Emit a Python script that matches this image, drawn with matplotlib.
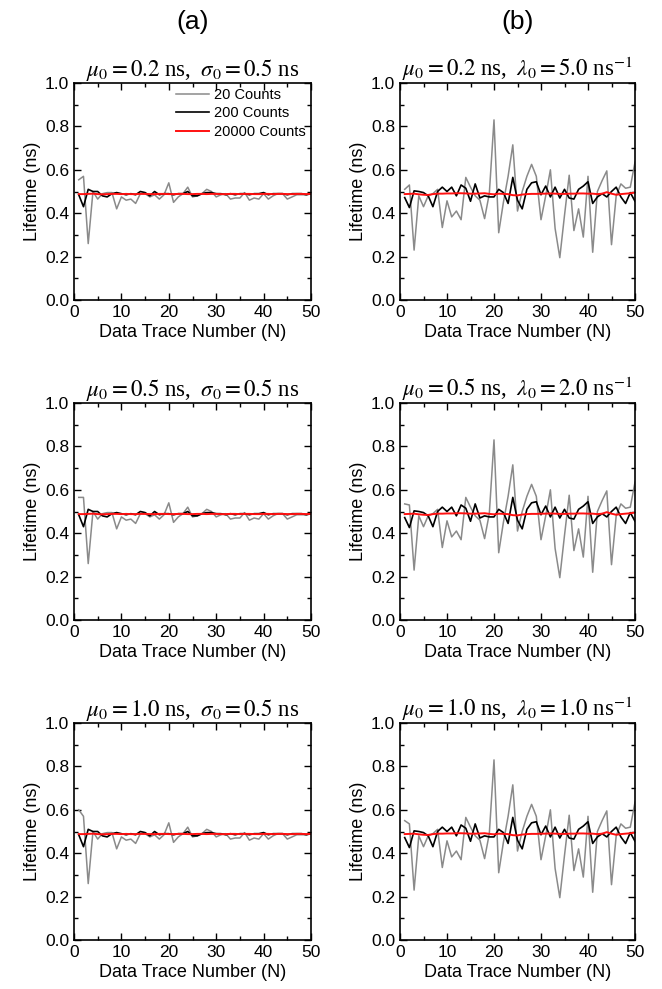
import matplotlib
matplotlib.use("Agg")
import matplotlib.pyplot as plt
import numpy as np

plt.rcParams['font.family'] = ['Liberation Sans', 'DejaVu Sans']
plt.rcParams['mathtext.fontset'] = 'stix'

N = list(range(1, 51))

# Panel (a): Gaussian IRF cases
a_gray = [0.554, 0.57, 0.26, 0.50, 0.465, 0.49, 0.495, 0.495, 0.42, 0.475,
          0.46, 0.465, 0.445, 0.49, 0.49, 0.475, 0.485, 0.465, 0.485, 0.54,
          0.45, 0.475, 0.49, 0.52, 0.475, 0.48, 0.49, 0.51, 0.50, 0.475,
          0.485, 0.49, 0.465, 0.47, 0.47, 0.495, 0.46, 0.47, 0.465, 0.49,
          0.465, 0.48, 0.49, 0.49, 0.465, 0.475, 0.485, 0.485, 0.485, 0.49]
a_gray_start = [[0.554, 0.57], [0.565, 0.565], [0.60, 0.57]]
a_black = [0.485, 0.43, 0.51, 0.50, 0.50, 0.48, 0.475, 0.49, 0.495, 0.49,
           0.485, 0.49, 0.485, 0.50, 0.495, 0.48, 0.50, 0.485, 0.49, 0.49,
           0.485, 0.49, 0.49, 0.50, 0.48, 0.48, 0.49, 0.495, 0.495, 0.49,
           0.49, 0.485, 0.49, 0.485, 0.49, 0.49, 0.485, 0.49, 0.49, 0.495,
           0.485, 0.49, 0.49, 0.49, 0.485, 0.49, 0.49, 0.49, 0.485, 0.49]
a_red = [0.488, 0.488, 0.489, 0.490, 0.488, 0.487, 0.488, 0.489, 0.489, 0.488,
         0.489, 0.488, 0.488, 0.489, 0.489, 0.488, 0.488, 0.489, 0.489, 0.488,
         0.488, 0.489, 0.489, 0.488, 0.488, 0.489, 0.489, 0.488, 0.489, 0.489,
         0.488, 0.488, 0.489, 0.489, 0.488, 0.489, 0.489, 0.488, 0.488, 0.489,
         0.489, 0.488, 0.489, 0.489, 0.488, 0.488, 0.489, 0.489, 0.488, 0.489]

# Panel (b): exponential IRF cases
b_gray = [0.51, 0.53, 0.23, 0.48, 0.43, 0.48, 0.49, 0.51, 0.334, 0.457,
          0.383, 0.41, 0.37, 0.565, 0.52, 0.48, 0.46, 0.375, 0.49, 0.83,
          0.31, 0.45, 0.57, 0.715, 0.41, 0.50, 0.57, 0.625, 0.57, 0.37,
          0.48, 0.60, 0.33, 0.195, 0.39, 0.575, 0.32, 0.42, 0.29, 0.57,
          0.22, 0.50, 0.55, 0.595, 0.255, 0.48, 0.535, 0.515, 0.52, 0.635]
b_gray_start = [[0.51, 0.53], [0.535, 0.53], [0.55, 0.535]]
b_black = [0.472, 0.426, 0.503, 0.50, 0.495, 0.48, 0.43, 0.50, 0.52, 0.50,
           0.52, 0.48, 0.53, 0.515, 0.455, 0.535, 0.47, 0.48, 0.475, 0.475,
           0.51, 0.495, 0.445, 0.565, 0.46, 0.42, 0.51, 0.54, 0.545, 0.485,
           0.525, 0.475, 0.52, 0.47, 0.51, 0.47, 0.465, 0.51, 0.525, 0.545,
           0.445, 0.475, 0.49, 0.475, 0.50, 0.52, 0.475, 0.445, 0.495, 0.455]
b_red = [0.488, 0.489, 0.490, 0.487, 0.485, 0.484, 0.488, 0.490, 0.490, 0.491,
         0.491, 0.492, 0.492, 0.491, 0.490, 0.490, 0.491, 0.492, 0.489, 0.487,
         0.490, 0.489, 0.488, 0.483, 0.482, 0.486, 0.488, 0.489, 0.489, 0.490,
         0.490, 0.491, 0.490, 0.489, 0.489, 0.490, 0.490, 0.491, 0.491, 0.490,
         0.490, 0.488, 0.490, 0.497, 0.490, 0.485, 0.488, 0.490, 0.492, 0.495]

a_titles = [r"$\mu_0 = 0.2$ ns, $\;\sigma_0 = 0.5$ ns",
            r"$\mu_0 = 0.5$ ns, $\;\sigma_0 = 0.5$ ns",
            r"$\mu_0 = 1.0$ ns, $\;\sigma_0 = 0.5$ ns"]
b_titles = [r"$\mu_0 = 0.2$ ns, $\;\lambda_0 = 5.0$ ns$^{-1}$",
            r"$\mu_0 = 0.5$ ns, $\;\lambda_0 = 2.0$ ns$^{-1}$",
            r"$\mu_0 = 1.0$ ns, $\;\lambda_0 = 1.0$ ns$^{-1}$"]
legend_labels = ["20 Counts", "200 Counts", "20000 Counts"]
panel_labels = ["(a)", "(b)"]

W, H = 662, 989
fig = plt.figure(figsize=(W / 100, H / 100), dpi=100)

col_left = [74, 400]
col_width = [237, 235]
row_top = [83, 403, 723]
row_h = 217


def style(ax):
    ax.set_xlim(0, 50)
    ax.set_ylim(0, 1.0)
    ax.set_xticks([0, 10, 20, 30, 40, 50])
    ax.set_xticks([5, 15, 25, 35, 45], minor=True)
    ax.set_yticks([0.0, 0.2, 0.4, 0.6, 0.8, 1.0])
    ax.set_yticks([0.1, 0.3, 0.5, 0.7, 0.9], minor=True)
    ax.set_yticklabels(["0.0", "0.2", "0.4", "0.6", "0.8", "1.0"])
    ax.tick_params(which='both', direction='in', top=True, right=True,
                   labelsize=12.5, width=1.0)
    ax.tick_params(which='major', length=5)
    ax.tick_params(which='minor', length=3)
    for s in ax.spines.values():
        s.set_linewidth(1.2)
    ax.set_xlabel("Data Trace Number (N)", fontsize=13, labelpad=3)
    ax.set_ylabel("Lifetime (ns)", fontsize=13, labelpad=3)


for c in range(2):
    for r in range(3):
        left = col_left[c] / W
        bottom = 1 - (row_top[r] + row_h) / H
        ax = fig.add_axes([left, bottom, col_width[c] / W, row_h / H])
        if c == 0:
            gray = a_gray_start[r] + a_gray[2:]
            black, red, title = a_black, a_red, a_titles[r]
        else:
            gray = b_gray_start[r] + b_gray[2:]
            black, red, title = b_black, b_red, b_titles[r]
        ax.plot(N, gray, color='#8a8a8a', lw=1.1, label=legend_labels[0])
        ax.plot(N, black, color='black', lw=1.2, label=legend_labels[1])
        ax.plot(N, red, color='#ff1010', lw=1.4, label=legend_labels[2])
        style(ax)
        ax.set_title(title, fontsize=16.5, pad=4, family='Liberation Serif')
        if c == 0 and r == 0:
            ax.legend(loc='upper right', frameon=False, fontsize=10.5,
                      handlelength=2.25, handletextpad=0.35, labelspacing=0.3,
                      borderaxespad=0.15, borderpad=0.2)

for c in range(2):
    cx = (col_left[c] + col_width[c] / 2) / W
    fig.text(cx, 1 - 22 / H, panel_labels[c], ha='center', va='center',
             fontsize=19)

fig.savefig("out.png", dpi=100)
